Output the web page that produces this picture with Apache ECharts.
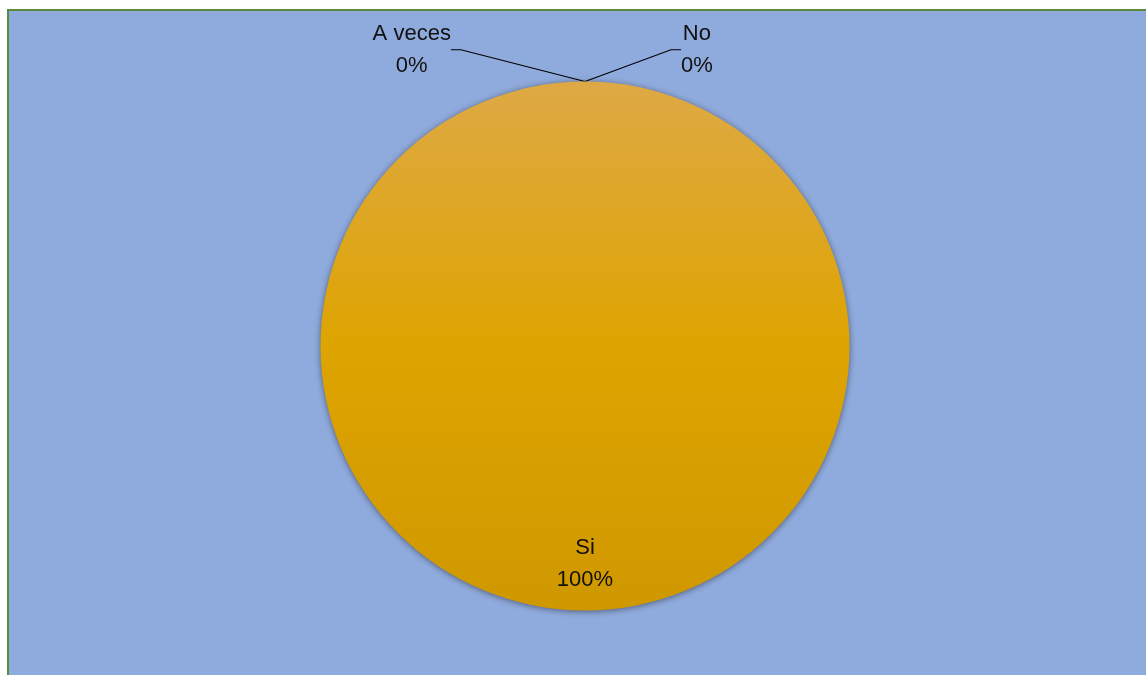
<!DOCTYPE html>
<html>
<head>
<meta charset="utf-8">
<script src="https://cdn.jsdelivr.net/npm/echarts@6/dist/echarts.min.js"></script>
<style>
  html, body { margin: 0; padding: 0; background: #ffffff; width: 1146px; height: 675px; overflow: hidden; }
  #frame { position: absolute; left: 7px; top: 9px; width: 1139px; height: 666px;
           border-left: 2px solid #5b8a3c; border-top: 2px solid #5b8a3c; background: #8faadc; }
  #chart { width: 1137px; height: 664px; }
</style>
</head>
<body>
<div id="frame"><div id="chart"></div></div>
<script>
// Survey answers and their shares (percent)
const categories = ['Si', 'No', 'A veces'];
const shares = [100, 0, 0];

// Where each answer's label sits, relative to its slice (fractions of the radius)
const labelOffsets = {
  'Si':      { dx: 0,      dy: 0.825 },
  'No':      { dx: 0.423,  dy: -0.12 },
  'A veces': { dx: -0.655, dy: -0.12 }
};

const chart = echarts.init(document.getElementById('chart'), null, { renderer: 'canvas' });

const sliceFill = new echarts.graphic.LinearGradient(0, 0, 0, 1, [
  { offset: 0, color: '#dea945' },
  { offset: 0.5, color: '#dea400' },
  { offset: 1, color: '#cf9800' }
]);

chart.setOption({
  animation: false,
  series: [{
    type: 'pie',
    center: [576, 335],
    radius: 264.5,
    startAngle: 90,
    clockwise: true,
    avoidLabelOverlap: false,
    data: categories.map((name, i) => ({
      name,
      value: shares[i],
      labelLine: { show: name !== 'Si' }
    })),
    itemStyle: {
      color: sliceFill,
      shadowBlur: 6,
      shadowColor: 'rgba(0,0,0,0.45)',
      shadowOffsetY: 1
    },
    label: {
      show: true,
      formatter: '{b}\n{d}%',
      fontFamily: 'Liberation Sans',
      fontSize: 22,
      lineHeight: 32,
      color: '#111111',
      align: 'center'
    },
    labelLine: {
      show: true,
      lineStyle: { color: '#000000', width: 1.2 },
      length: 10,
      length2: 10
    },
    labelLayout: function (params) {
      const name = categories[params.dataIndex];
      const off = labelOffsets[name];
      const r = 264.5;
      let ax, ay;
      if (name === 'Si') {
        ax = params.rect.x + params.rect.width / 2;
        ay = params.rect.y + params.rect.height / 2;
      } else {
        ax = params.rect.x;
        ay = params.rect.y;
      }
      return {
        x: ax + off.dx * r,
        y: ay + off.dy * r,
        align: 'center',
        verticalAlign: 'middle'
      };
    }
  }]
});
</script>
</body>
</html>
